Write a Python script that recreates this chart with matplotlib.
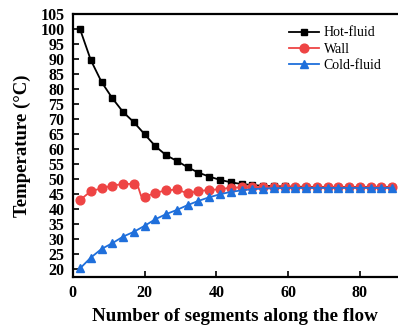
import matplotlib
matplotlib.use("Agg")
import matplotlib.pyplot as plt

# Data
segments = [2, 5, 8, 11, 14, 17, 20, 23, 26, 29, 32, 35, 38, 41, 44, 47, 50, 53, 56, 59,
            62, 65, 68, 71, 74, 77, 80, 83, 86, 89]
hot_fluid = [100.0, 89.7, 82.4, 77.0, 72.4, 69.0, 65.0, 61.0, 58.0, 56.1, 54.0, 52.2, 50.9,
             49.8, 49.0, 48.4, 48.1, 47.8, 47.7, 47.6, 47.5, 47.5, 47.4, 47.4, 47.4, 47.4,
             47.4, 47.4, 47.4, 47.4]
wall_x = [2, 5, 8, 11, 14, 17, 18, 19, 20, 23, 26, 29, 32, 35, 38, 41, 44, 47, 50, 53, 56,
          59, 62, 65, 68, 71, 74, 77, 80, 83, 86, 89]
wall = [43.1, 46.0, 47.0, 47.9, 48.4, 48.5, 48.2, 44.5, 44.1, 45.5, 46.3, 46.6, 45.3, 46.1,
        46.4, 46.7, 47.2, 47.3, 47.3, 47.3, 47.3, 47.3, 47.3, 47.3, 47.3, 47.3, 47.3, 47.3,
        47.3, 47.3, 47.3, 47.3]
cold_fluid = [20.3, 23.9, 26.8, 28.7, 30.9, 32.5, 34.5, 36.7, 38.4, 39.8, 41.4, 42.8, 44.0,
              45.0, 45.8, 46.3, 46.7, 46.9, 47.0, 47.1, 47.1, 47.1, 47.1, 47.1, 47.1, 47.1,
              47.1, 47.1, 47.1, 47.1]
x_ticks = [0, 20, 40, 60, 80]
y_ticks = list(range(20, 106, 5))

plt.rcParams['font.family'] = ['Liberation Serif', 'DejaVu Serif']
plt.rcParams['mathtext.fontset'] = 'stix'

fig = plt.figure(figsize=(3.98, 3.28), dpi=100)
ax = fig.add_axes([0.183, 0.155, 0.817, 0.802])

ax.plot(segments, hot_fluid, color='black', lw=1.3, marker='s', ms=5, label='Hot-fluid')
wall_marks = [i for i, v in enumerate(wall_x) if v not in (18, 19)]
ax.plot(wall_x, wall, color='#EE4444', lw=1.3, marker='o', ms=6.3, markevery=wall_marks,
        label='Wall')
ax.plot(segments, cold_fluid, color='#1F6FDB', lw=1.3, marker='^', ms=6.3, label='Cold-fluid')

ax.set_xlim(0, 90.6)
ax.set_ylim(17.4, 105)
ax.set_xticks(x_ticks)
ax.set_yticks(y_ticks)
ax.tick_params(direction='in', length=4, width=1.2, labelsize=11.5)
for lab in ax.get_xticklabels() + ax.get_yticklabels():
    lab.set_fontweight('bold')
ax.tick_params(axis='x', pad=6)
ax.tick_params(axis='y', pad=6)

for s in ['left', 'bottom', 'top']:
    ax.spines[s].set_linewidth(1.6)
ax.spines['right'].set_visible(False)

ax.set_xlabel('Number of segments along the flow', fontsize=13.7, fontweight='bold', labelpad=5)
ax.set_ylabel('Temperature (°C)', fontsize=13.5, fontweight='bold', labelpad=7)

leg = ax.legend(loc='upper right', bbox_to_anchor=(0.975, 0.985), frameon=False, fontsize=10,
                handlelength=2.2, handletextpad=0.3, labelspacing=0.25, borderaxespad=0.2)

fig.savefig('out.png', dpi=100)
